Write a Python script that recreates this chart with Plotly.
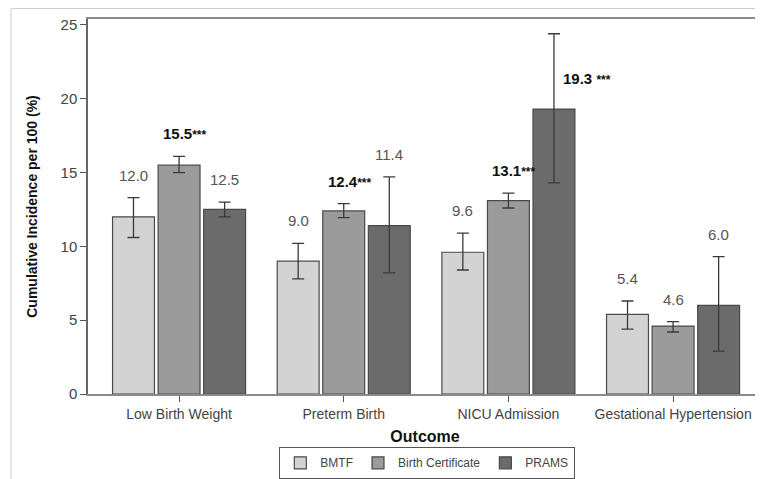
import plotly.graph_objects as go

categories = ["Low Birth Weight", "Preterm Birth", "NICU Admission", "Gestational Hypertension"]
series_names = ["BMTF", "Birth Certificate", "PRAMS"]

bmtf_values = [12.0, 9.0, 9.6, 5.4]
bmtf_upper = [13.3, 10.2, 10.9, 6.3]
bmtf_lower = [10.6, 7.8, 8.4, 4.4]

bc_values = [15.5, 12.4, 13.1, 4.6]
bc_upper = [16.1, 12.9, 13.6, 4.9]
bc_lower = [15.0, 11.95, 12.6, 4.2]

prams_values = [12.5, 11.4, 19.3, 6.0]
prams_upper = [13.0, 14.7, 24.4, 9.3]
prams_lower = [12.0, 8.2, 14.3, 2.9]

bmtf_sig = [False, False, False, False]
bc_sig = [True, True, True, False]
prams_sig = [False, False, True, False]

y_ticks = [0, 5, 10, 15, 20, 25]

colors = ["#d3d3d3", "#9b9b9b", "#6b6b6b"]
values = [bmtf_values, bc_values, prams_values]
uppers = [bmtf_upper, bc_upper, prams_upper]
lowers = [bmtf_lower, bc_lower, prams_lower]
sigs = [bmtf_sig, bc_sig, prams_sig]

FONT = "Liberation Sans, Arial, sans-serif"
bargap = 0.17
bargroupgap = 0.08

fig = go.Figure()
for name, vals, up, lo, col in zip(series_names, values, uppers, lowers, colors):
    fig.add_trace(go.Bar(
        name=name, x=categories, y=vals,
        marker=dict(color=col, line=dict(color="#4a4a4a", width=1.2)),
        error_y=dict(type="data", symmetric=False,
                     array=[u - v for u, v in zip(up, vals)],
                     arrayminus=[v - l for v, l in zip(vals, lo)],
                     color="#3a3a3a", thickness=1.3, width=6),
    ))

slot = (1 - bargap) / 3
star = "<span style='font-size:12px'><b>***</b></span>"
annotations = []
for si, (vals, up, sg) in enumerate(zip(values, uppers, sigs)):
    off = (si - 1) * slot
    for ci, (v, u, s) in enumerate(zip(vals, up, sg)):
        x = ci + off
        if s:
            if si == 2:
                annotations.append(dict(x=x, y=u, xref="x", yref="y", text="<b>%.1f</b> %s" % (v, star),
                                        showarrow=False, xanchor="left", yanchor="middle",
                                        xshift=7, yshift=-45,
                                        font=dict(family=FONT, size=15, color="#111")))
                continue
            annotations.append(dict(x=x, y=u, xref="x", yref="y", text="<b>%.1f</b>%s" % (v, star), showarrow=False,
                                    xanchor="center", yanchor="bottom", yshift=12, xshift=6,
                                    font=dict(family=FONT, size=15, color="#111")))
        else:
            annotations.append(dict(x=x, y=u, xref="x", yref="y", text="%.1f" % v, showarrow=False,
                                    xanchor="center", yanchor="bottom", yshift=12,
                                    font=dict(family=FONT, size=15, color="#555")))

fig.update_layout(
    width=755, height=471,
    margin=dict(l=80, r=1, t=11, b=85, autoexpand=False),
    paper_bgcolor="white", plot_bgcolor="white",
    barmode="group", bargap=bargap, bargroupgap=bargroupgap,
    font=dict(family=FONT, color="#333"),
    showlegend=True,
    legend=dict(orientation="h", x=0.503, xanchor="center", y=-0.184, yanchor="middle",
                bordercolor="#555", borderwidth=1.3, font=dict(size=12, color="#444"),
                itemwidth=30, tracegroupgap=0),
    annotations=annotations,
    shapes=[
        dict(type="line", xref="paper", yref="paper", x0=-0.1142, x1=1.01, y0=1.028, y1=1.028,
             line=dict(color="#cccccc", width=1)),
        dict(type="line", xref="paper", yref="paper", x0=-0.1142, x1=-0.1142, y0=1.028, y1=-0.3,
             line=dict(color="#cccccc", width=1)),
    ],
)
fig.update_xaxes(
    range=[-0.553, 3.54], showline=True, linecolor="#8a8a8a", linewidth=2, mirror=True,
    ticks="outside", ticklen=6, tickcolor="#555", tickwidth=1.3, automargin=False,
    tickfont=dict(size=14, color="#444"),
    title=dict(text="<b>Outcome</b>", font=dict(size=16, color="#111"), standoff=10),
    showgrid=False,
)
fig.update_yaxes(
    range=[0, 25.4], tickvals=y_ticks, showline=True, linecolor="#666", linewidth=1.5, mirror=True,
    ticks="outside", ticklen=6, tickcolor="#555", tickwidth=1.3, automargin=False,
    tickfont=dict(size=15, color="#444"),
    title=dict(text="<b>Cumulative Incidence per 100 (%)</b>", font=dict(size=14, color="#111"), standoff=20),
    showgrid=False, zeroline=False,
)
fig.write_html("out.html")
